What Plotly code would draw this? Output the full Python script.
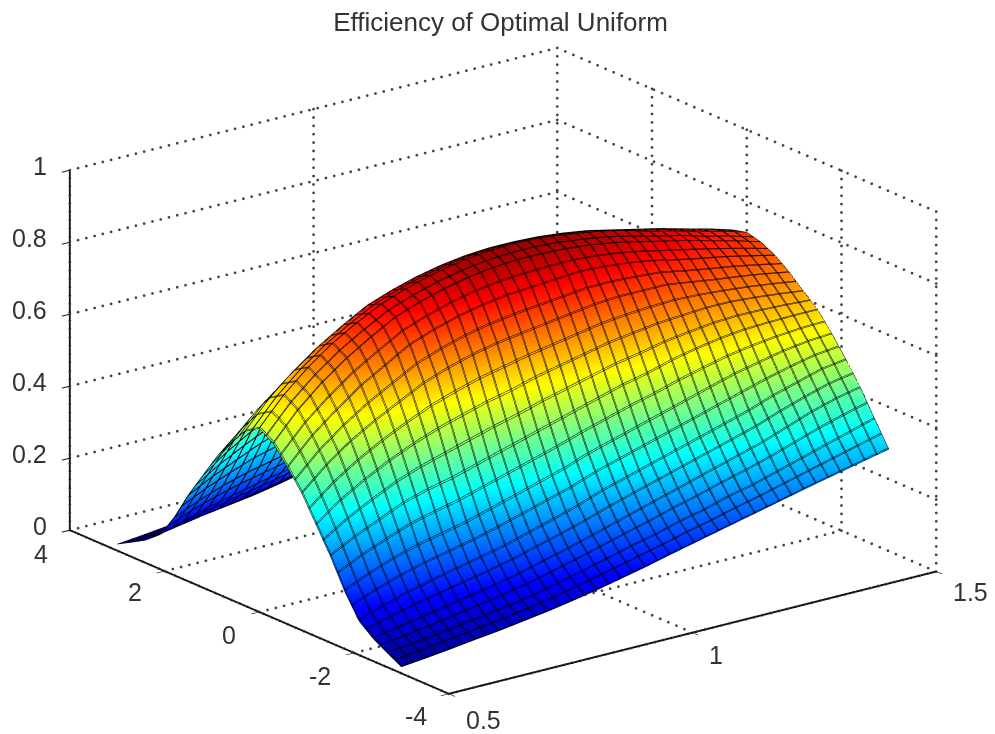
import numpy as np
import plotly.graph_objects as go

title = "Efficiency of Optimal Uniform"
x_vals = [0.5,0.55,0.6,0.65,0.7,0.75,0.8,0.85,0.9,0.95,1.0,1.05,1.1,1.15,1.2,1.25,1.3,1.35,1.4,1.45,1.5]
y_vals = [-3.0,-2.7,-2.4,-2.1,-1.8,-1.5,-1.2,-0.9,-0.6,-0.3,0.0,0.3,0.6,0.9,1.2,1.5,1.8,2.1,2.4,2.7,3.0]
# one row per x value, one column per y value
z_vals = [
[.018,.04,.063,.095,.16,.24,.31,.38,.435,.485,.51,.485,.435,.38,.31,.24,.16,.095,.063,.04,.018],
[.025,.047,.075,.118,.19,.275,.36,.44,.505,.56,.585,.56,.505,.44,.36,.275,.19,.118,.075,.047,.025],
[.033,.055,.087,.138,.215,.305,.40,.49,.56,.62,.645,.62,.56,.49,.40,.305,.215,.138,.087,.055,.033],
[.042,.065,.10,.155,.235,.335,.435,.53,.61,.67,.695,.67,.61,.53,.435,.335,.235,.155,.10,.065,.042],
[.05,.075,.112,.17,.25,.355,.465,.565,.65,.712,.735,.712,.65,.565,.465,.355,.25,.17,.112,.075,.05],
[.06,.085,.125,.185,.265,.37,.49,.60,.69,.75,.77,.75,.69,.60,.49,.37,.265,.185,.125,.085,.06],
[.07,.098,.14,.20,.285,.39,.51,.625,.715,.775,.795,.775,.715,.625,.51,.39,.285,.20,.14,.098,.07],
[.082,.113,.158,.22,.305,.41,.53,.645,.735,.795,.815,.795,.735,.645,.53,.41,.305,.22,.158,.113,.082],
[.095,.13,.175,.24,.325,.43,.545,.66,.75,.81,.83,.81,.75,.66,.545,.43,.325,.24,.175,.13,.095],
[.11,.147,.195,.26,.345,.45,.565,.67,.76,.82,.84,.82,.76,.67,.565,.45,.345,.26,.195,.147,.11],
[.125,.165,.215,.285,.37,.47,.58,.68,.765,.825,.845,.825,.765,.68,.58,.47,.37,.285,.215,.165,.125],
[.142,.18,.235,.305,.39,.49,.595,.69,.77,.825,.845,.825,.77,.69,.595,.49,.39,.305,.235,.18,.142],
[.158,.20,.255,.325,.41,.51,.61,.70,.775,.822,.84,.822,.775,.70,.61,.51,.41,.325,.255,.20,.158],
[.174,.215,.275,.345,.43,.525,.62,.705,.772,.815,.83,.815,.772,.705,.62,.525,.43,.345,.275,.215,.174],
[.19,.235,.295,.365,.45,.545,.63,.705,.765,.805,.82,.805,.765,.705,.63,.545,.45,.365,.295,.235,.19],
[.206,.25,.315,.385,.47,.56,.635,.705,.755,.79,.805,.79,.755,.705,.635,.56,.47,.385,.315,.25,.206],
[.222,.27,.335,.405,.49,.572,.64,.695,.74,.775,.785,.775,.74,.695,.64,.572,.49,.405,.335,.27,.222],
[.238,.29,.36,.43,.505,.58,.64,.685,.727,.76,.77,.76,.727,.685,.64,.58,.505,.43,.36,.29,.238],
[.253,.31,.385,.45,.52,.583,.635,.677,.715,.742,.75,.742,.715,.677,.635,.583,.52,.45,.385,.31,.253],
[.268,.33,.405,.47,.53,.585,.628,.667,.70,.725,.735,.725,.70,.667,.628,.585,.53,.47,.405,.33,.268],
[.283,.35,.42,.48,.535,.585,.62,.655,.685,.705,.715,.705,.685,.655,.62,.585,.535,.48,.42,.35,.283],
]
x_ticks = [0.5, 1, 1.5]
y_ticks = [-4, -2, 0, 2, 4]
z_ticks = [0, 0.2, 0.4, 0.6, 0.8, 1]
x_labels = ["0.5", "1", "1.5"]
y_labels = ["-4", "-2", "0", "2", "4"]
z_labels = ["0", "0.2", "0.4", "0.6", "0.8", "1"]

jet = [[0, "#00008f"], [0.125, "#0000ff"], [0.375, "#00ffff"],
       [0.625, "#ffff00"], [0.875, "#ff0000"], [1, "#800000"]]
FONT = "Liberation Sans"
TEXT = "#333333"
SCALE = 1.67

fig = go.Figure()

def dotted(a, b, n):
    """Dotted MATLAB-style grid line between two 3D axis positions."""
    fig.add_trace(go.Scatter3d(
        x=np.linspace(a[0], b[0], n), y=np.linspace(a[1], b[1], n), z=np.linspace(a[2], b[2], n),
        mode="markers", hoverinfo="skip", showlegend=False,
        marker=dict(color="#444444", size=1.6, line=dict(width=0))))

x0, x1 = x_ticks[0], x_ticks[-1]
y0, y1 = y_ticks[0], y_ticks[-1]
z0, z1 = z_ticks[0], z_ticks[-1]
NX, NY, NZ = 60, 48, 44
for xt in x_ticks:
    dotted((xt, y0, z0), (xt, y1, z0), NY)
    dotted((xt, y1, z0), (xt, y1, z1), NZ)
for yt in y_ticks:
    dotted((x0, yt, z0), (x1, yt, z0), NX)
    dotted((x1, yt, z0), (x1, yt, z1), NZ)
for zt in z_ticks:
    dotted((x0, y1, zt), (x1, y1, zt), NX)
    dotted((x1, y0, zt), (x1, y1, zt), NY)

# the mesh lines stop thickening at one pixel, so a second pass lays a neighbouring set beside them
for dx_mesh, dy_mesh in [(0, 0), (0.002, 0.012)]:
    fig.add_trace(go.Surface(
        x=x_vals, y=y_vals, z=[list(col) for col in zip(*z_vals)],
        colorscale=jet, cmin=0.01, cmax=0.87, showscale=False, hoverinfo="skip",
        lighting=dict(ambient=1, diffuse=0, specular=0, fresnel=0, roughness=1),
        contours=dict(
            x=dict(show=True, start=0.5 + dx_mesh, end=1.5, size=0.025, color="#000000", width=4),
            y=dict(show=True, start=-3 + dy_mesh, end=3, size=0.15, color="#000000", width=4),
        ),
    ))

def axis(rng, vals):
    return dict(range=rng, tickvals=vals, title=dict(text=""), showticklabels=False,
                showgrid=False, zeroline=False, showbackground=False, showline=True,
                linecolor="#111111", linewidth=4, ticks="outside", ticklen=10, tickcolor="#111111",
                tickwidth=2, showspikes=False, autorange=False)

def label(x, y, z, text, dx, dy, anchor="center"):
    return dict(x=x, y=y, z=z, text=text, showarrow=False, xshift=dx, yshift=dy, xanchor=anchor,
                yanchor="middle", font=dict(family=FONT, size=25, color=TEXT))

annotations = []
for zt, s in zip(z_ticks, z_labels):
    annotations.append(label(x0, y1, zt, s, -21, 4, "right"))
for yt, s, dx, dy in zip(y_ticks, y_labels, [-33, -34, -30, -30, -29], [-22, -23, -23, -21, -24]):
    annotations.append(label(x0, yt, z0, s, dx, dy))
for xt, s, dx, dy in zip(x_ticks, x_labels, [35, 23, 34], [-26, -22, -20]):
    annotations.append(label(xt, y0, z0, s, dx, dy))

CX, CY, CZ = 0.0054, -0.0041, -0.012
fig.update_layout(
    width=995, height=734, autosize=False, paper_bgcolor="white",
    margin=dict(l=0, r=0, t=0, b=0), showlegend=False,
    title=dict(text=title, x=0.495, xanchor="center", y=0.981, yanchor="middle",
               font=dict(family=FONT, size=26, color=TEXT)),
    scene=dict(
        domain=dict(x=[0, 1], y=[0, 1]),
        xaxis=axis([x0, x1], x_ticks),
        yaxis=axis([y0, y1], y_ticks),
        zaxis=axis([z0, z1], z_ticks),
        aspectmode="manual", aspectratio=dict(x=1*SCALE, y=1.02*SCALE, z=0.622*SCALE),
        annotations=annotations,
        camera=dict(projection=dict(type="orthographic"),
                    eye=dict(x=-0.574*1.5+CX, y=-0.753*1.5+CY, z=0.33*1.5+CZ),
                    center=dict(x=CX, y=CY, z=CZ), up=dict(x=0, y=0, z=1)),
    ),
)
fig.write_html("out.html", config=dict(displayModeBar=False))
